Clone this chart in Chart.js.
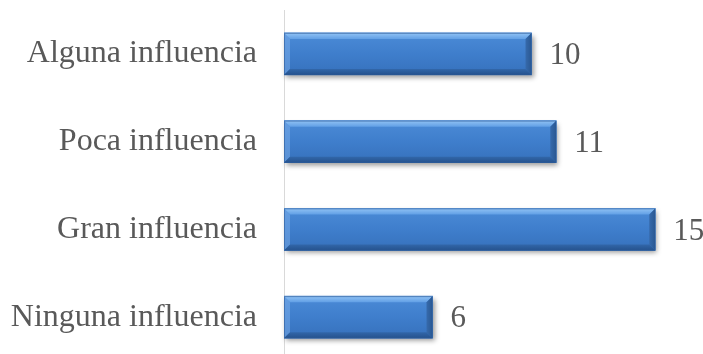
<!DOCTYPE html>
<html>
<head>
<meta charset="utf-8">
<script src="https://cdn.jsdelivr.net/npm/chart.js@4"></script>
<style>
  html, body { margin: 0; padding: 0; background: #ffffff; overflow: hidden; }
  #wrap { width: 703px; height: 361px; }
  canvas { display: block; }
</style>
</head>
<body>
<div id="wrap"><canvas id="c" width="703" height="361"></canvas></div>
<script>
const categories = ['Alguna influencia', 'Poca influencia', 'Gran influencia', 'Ninguna influencia'];
const counts = [10, 11, 15, 6];

const TEXT = '#595959';
const FONT = '"Liberation Serif", "Times New Roman", serif';
const BAR_THICKNESS = 42;

// soft drop shadow behind each bar
const shadowPlugin = {
  id: 'barShadow',
  beforeDatasetsDraw(chart) {
    const ctx = chart.ctx;
    chart.getDatasetMeta(0).data.forEach(bar => {
      const left = Math.min(bar.base, bar.x), right = Math.max(bar.base, bar.x);
      const top = bar.y - bar.height / 2;
      ctx.save();
      ctx.shadowColor = 'rgba(0,0,0,0.4)';
      ctx.shadowBlur = 5;
      ctx.shadowOffsetX = 2;
      ctx.shadowOffsetY = 3;
      ctx.fillStyle = '#3a74bd';
      ctx.fillRect(left, top, right - left, bar.height);
      ctx.restore();
    });
  }
};

// bevelled edges on top of each bar, plus the value written beside it
const bevelPlugin = {
  id: 'barBevel',
  afterDatasetsDraw(chart) {
    const ctx = chart.ctx;
    const meta = chart.getDatasetMeta(0);
    meta.data.forEach((bar, i) => {
      const l = Math.min(bar.base, bar.x), r = Math.max(bar.base, bar.x);
      const t = bar.y - bar.height / 2, b = bar.y + bar.height / 2;
      const d = 6;
      ctx.save();
      // top
      let g = ctx.createLinearGradient(0, t, 0, t + d);
      g.addColorStop(0, '#92c3f4');
      g.addColorStop(1, '#62a0e6');
      ctx.fillStyle = g;
      ctx.beginPath();
      ctx.moveTo(l, t); ctx.lineTo(r, t); ctx.lineTo(r - d, t + d); ctx.lineTo(l + d, t + d); ctx.closePath();
      ctx.fill();
      // left
      ctx.fillStyle = 'rgba(125,175,235,0.5)';
      ctx.beginPath();
      ctx.moveTo(l, t); ctx.lineTo(l + d, t + d); ctx.lineTo(l + d, b - d); ctx.lineTo(l, b); ctx.closePath();
      ctx.fill();
      // right
      g = ctx.createLinearGradient(r - d, 0, r, 0);
      g.addColorStop(0, '#366aac');
      g.addColorStop(1, '#2a5892');
      ctx.fillStyle = g;
      ctx.beginPath();
      ctx.moveTo(r, t); ctx.lineTo(r, b); ctx.lineTo(r - d, b - d); ctx.lineTo(r - d, t + d); ctx.closePath();
      ctx.fill();
      // bottom
      g = ctx.createLinearGradient(0, b - d, 0, b);
      g.addColorStop(0, '#3267aa');
      g.addColorStop(1, '#25528d');
      ctx.fillStyle = g;
      ctx.beginPath();
      ctx.moveTo(l, b); ctx.lineTo(r, b); ctx.lineTo(r - d, b - d); ctx.lineTo(l + d, b - d); ctx.closePath();
      ctx.fill();
      // outline
      ctx.strokeStyle = 'rgba(45,90,150,0.6)';
      ctx.lineWidth = 1;
      ctx.strokeRect(l + 0.5, t + 0.5, r - l - 1, b - t - 1);
      ctx.restore();

      // value label
      ctx.save();
      ctx.fillStyle = TEXT;
      ctx.font = '31px ' + FONT;
      ctx.textAlign = 'left';
      ctx.textBaseline = 'middle';
      ctx.fillText(String(chart.data.datasets[0].data[i]), r + 18, bar.y + 2);
      ctx.restore();
    });
  }
};

new Chart(document.getElementById('c'), {
  type: 'bar',
  data: {
    labels: categories,
    datasets: [{
      data: counts,
      barThickness: BAR_THICKNESS,
      borderWidth: 0,
      backgroundColor(context) {
        const chart = context.chart;
        const yScale = chart.scales && chart.scales.y;
        if (!chart.chartArea || !yScale) return '#3f7ecc';
        const cy = yScale.getPixelForValue(context.dataIndex);
        if (!isFinite(cy)) return '#3f7ecc';
        const t = cy - BAR_THICKNESS / 2, b = cy + BAR_THICKNESS / 2;
        const g = chart.ctx.createLinearGradient(0, t, 0, b);
        g.addColorStop(0, '#4b8bd7');
        g.addColorStop(0.5, '#3f7ecc');
        g.addColorStop(1, '#3671bc');
        return g;
      }
    }]
  },
  options: {
    indexAxis: 'y',
    responsive: false,
    animation: false,
    layout: { padding: { top: 10, right: 23, bottom: 0, left: 0 } },
    plugins: { legend: { display: false }, tooltip: { enabled: false } },
    scales: {
      x: { display: false, min: 0, max: 16 },
      y: {
        afterFit(scale) {
          scale.width = 284;
          scale.paddingTop = 0;
          scale.paddingBottom = 0;
        },
        grid: { display: false, drawTicks: false },
        border: { display: true, color: '#d9d9d9', width: 1 },
        ticks: {
          color: TEXT,
          padding: 27,
          font: { family: FONT, size: 32 }
        }
      }
    }
  },
  plugins: [shadowPlugin, bevelPlugin]
});
</script>
</body>
</html>
